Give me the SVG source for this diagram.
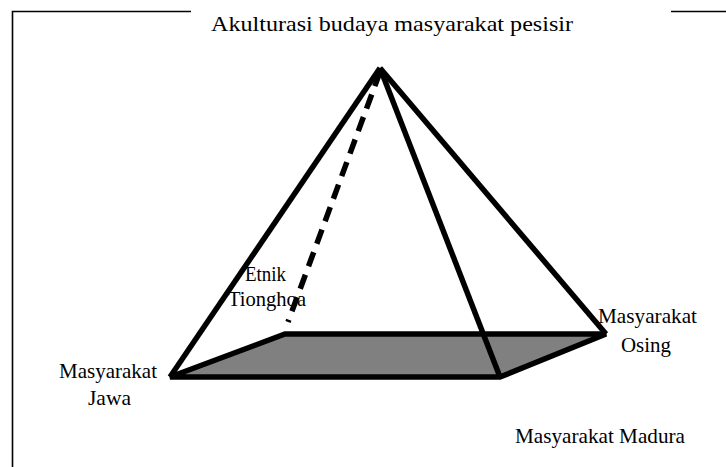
<svg xmlns="http://www.w3.org/2000/svg" width="726" height="467" viewBox="0 0 726 467">
<style>
.t{font-family:"Liberation Serif","Times New Roman",serif;font-size:21px;fill:#000}
.edge{stroke:#000;stroke-width:5.5;fill:none;stroke-linecap:butt}
.frame{stroke:#000;stroke-width:1.6;fill:none}
</style>
<rect width="726" height="467" fill="#fff"/>
<g id="frame">
<polyline class="frame" points="12.5,467 12.5,11.5 191,11.5"/>
<line class="frame" x1="671" y1="11.5" x2="726" y2="11.5"/>
</g>
<text class="t" x="211" y="31" textLength="362" lengthAdjust="spacingAndGlyphs">Akulturasi budaya masyarakat pesisir</text>
<g id="connectors">
<polygon id="base" points="170,377 285,334 606,334 500,377" fill="#808080" stroke="#000" stroke-width="5.5" stroke-linejoin="miter"/>
<line class="edge" x1="380" y1="68" x2="170" y2="377"/>
<line class="edge" x1="380" y1="68" x2="500" y2="377"/>
<line class="edge" x1="380" y1="68" x2="606" y2="334"/>
<line class="edge" x1="380" y1="72" x2="288" y2="322" stroke-dasharray="15,9"/>
</g>
<g id="etnik-tionghoa">
<text class="t" x="245" y="281" textLength="41" lengthAdjust="spacingAndGlyphs">Etnik</text>
<text class="t" x="228" y="306" textLength="78" lengthAdjust="spacingAndGlyphs">Tionghoa</text>
</g>
<g id="osing">
<text class="t" x="598" y="323" textLength="99" lengthAdjust="spacingAndGlyphs">Masyarakat</text>
<text class="t" x="621" y="352" textLength="50" lengthAdjust="spacingAndGlyphs">Osing</text>
</g>
<g id="jawa">
<text class="t" x="59" y="378" textLength="98" lengthAdjust="spacingAndGlyphs">Masyarakat</text>
<text class="t" x="88" y="405" textLength="43" lengthAdjust="spacingAndGlyphs">Jawa</text>
</g>
<g id="madura">
<text class="t" x="515" y="443" textLength="170" lengthAdjust="spacingAndGlyphs">Masyarakat Madura</text>
</g>
</svg>
